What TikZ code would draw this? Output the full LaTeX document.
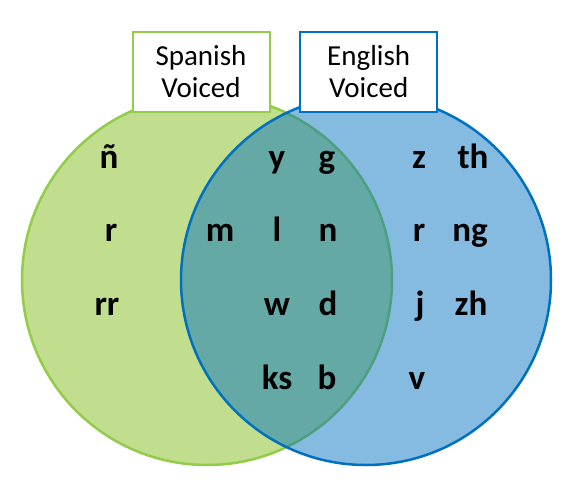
\documentclass[tikz,border=0pt]{standalone}
\usepackage{fontspec}
\setmainfont{Carlito}
\definecolor{gfill}{RGB}{192,222,142}
\definecolor{gline}{RGB}{146,204,72}
\definecolor{bline}{RGB}{0,112,192}
\definecolor{bfill}{RGB}{0,112,192}
\tikzset{
  lett/.style={anchor=base, inner sep=0pt, font=\fontsize{35}{40}\selectfont\bfseries},
  lbl/.style={draw, line width=2pt, fill=white, minimum width=137pt, minimum height=80pt,
    inner sep=0pt, align=center, font=\fontsize{29}{32}\selectfont},
}
\begin{document}
\begin{tikzpicture}[x=1pt, y=-1pt]
\useasboundingbox (0,0) rectangle (578,479);
% circles
\node[circle, draw=gline, fill=gfill, line width=2.5pt, minimum size=370pt, inner sep=0pt] (gc) at (207,280) {};
\node[circle, draw=bline, fill=bfill, fill opacity=0.48, line width=2.5pt, minimum size=370pt, inner sep=0pt] (bc) at (366,280) {};
% labels
\node[lbl, draw=gline] (sp) at (201,71.7) {Spanish\\Voiced};
\node[lbl, draw=bline] (en) at (368.7,71.7) {English\\Voiced};
% row 1
\node[lett] (n1) at (109,168) {ñ};
\node[lett] (y1) at (277,168) {y};
\node[lett] (g1) at (327,168) {g};
\node[lett] (z1) at (419,168) {z};
\node[lett] (th) at (473,168) {th};
% row 2
\node[lett] (r2) at (111,241) {r};
\node[lett] (m2) at (220,241) {m};
\node[lett] (l2) at (277,241) {l};
\node[lett] (nn) at (328,241) {n};
\node[lett] (r3) at (419,241) {r};
\node[lett] (ng) at (470,241) {ng};
% row 3
\node[lett] (rr) at (107,315) {rr};
\node[lett] (w3) at (277,315) {w};
\node[lett] (d3) at (328,315) {d};
\node[lett] (j3) at (420,315) {j};
\node[lett] (zh) at (471,315) {zh};
% row 4
\node[lett] (ks) at (277,389) {ks};
\node[lett] (b4) at (327,389) {b};
\node[lett] (v4) at (417,389) {v};
\end{tikzpicture}
\end{document}
